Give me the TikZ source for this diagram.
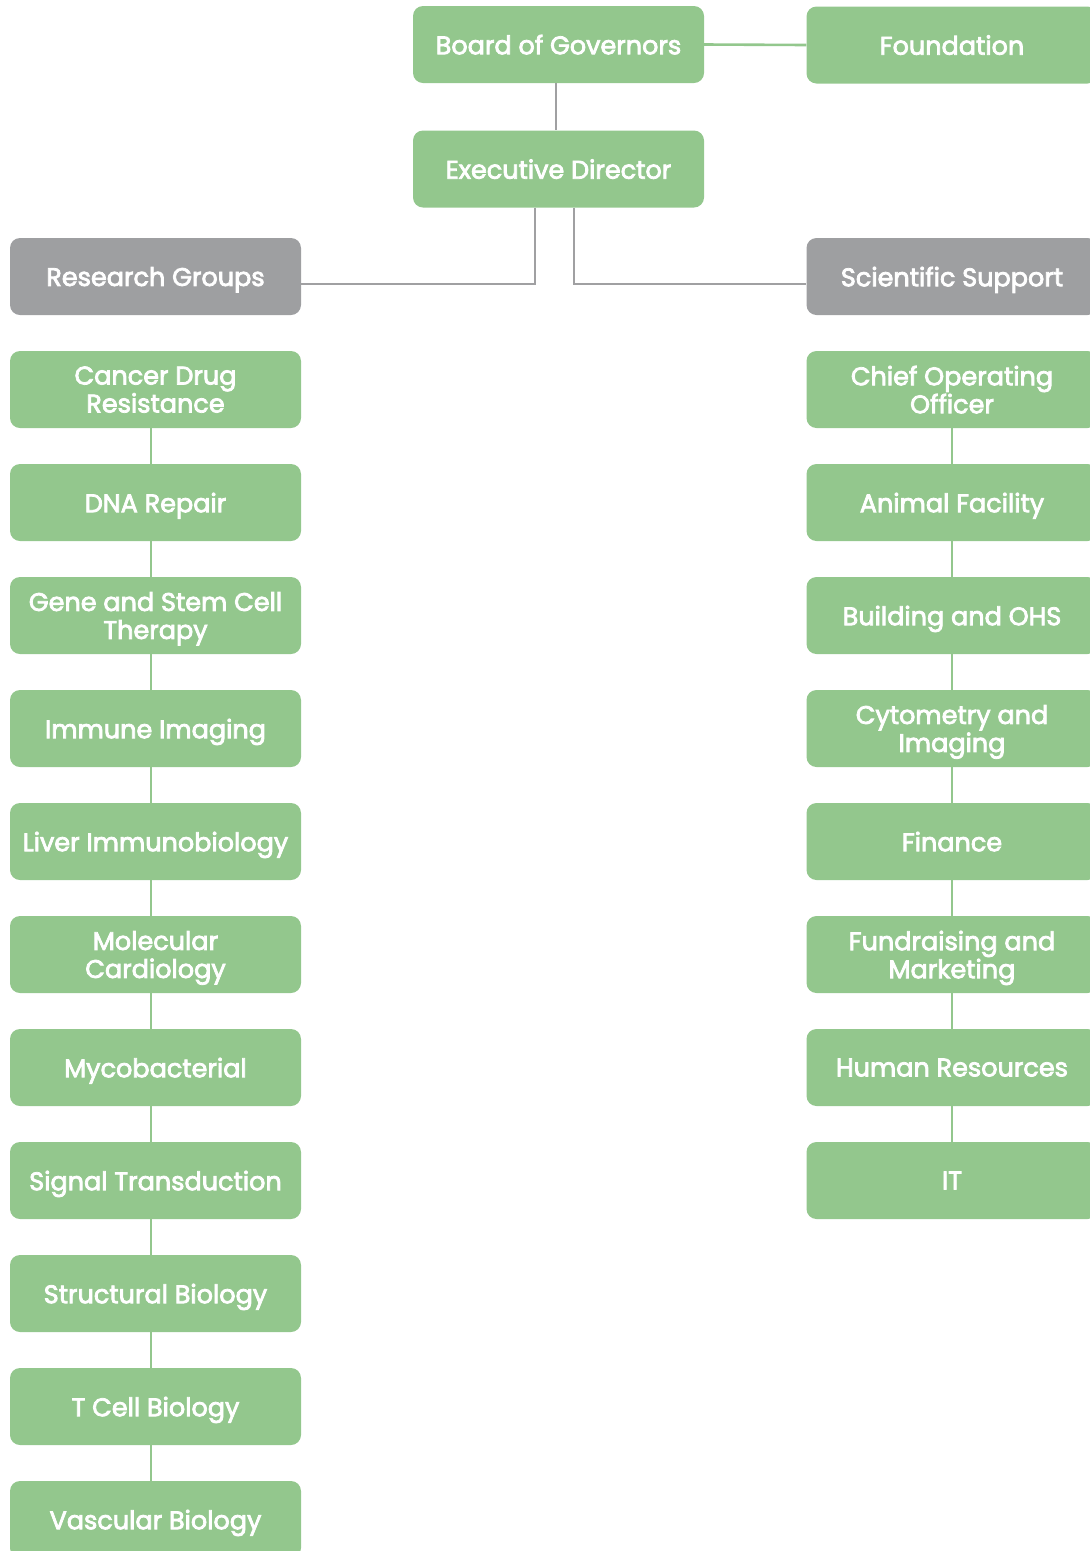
\documentclass[tikz,border=0pt]{standalone}
\usepackage{fontspec}
\setmainfont{Poppins}[FakeBold=3]
\definecolor{boxgreen}{RGB}{147,199,141}
\definecolor{boxgray}{RGB}{158,159,161}
\definecolor{linegray}{RGB}{160,160,162}
\begin{document}
\begin{tikzpicture}[x=1pt,y=-1pt,
  box/.style={rounded corners=10pt,minimum width=291pt,minimum height=77pt,inner sep=0pt,
    text=white,align=center,text depth=0pt,font=\fontsize{25.5}{28}\selectfont},
  gbox/.style={box,fill=boxgreen},
  hbox/.style={box,fill=boxgray},
  gline/.style={draw=boxgreen,line width=2.6pt},
  hline/.style={draw=linegray,line width=2.6pt}]
\useasboundingbox (0,0) rectangle (1090,1551);
% top
\node[gbox] (bog) at (558.5,44.5) {Board of Governors};
\node[gbox] (fnd) at (952,45) {Foundation};
\node[gbox] (ed) at (558.5,169) {Executive Director};
\node[hbox] (rg) at (155.5,276.5) {Research Groups};
\node[hbox] (ss) at (952,276.5) {Scientific Support};
\draw[gline] (bog.east) -- (fnd.west);
\draw[hline] ([xshift=-2.5pt]bog.south) -- ([xshift=-2.5pt]ed.north);
\draw[hline] ([xshift=-23.5pt]ed.south) |- ([yshift=-7.5pt]rg.east);
\draw[hline] ([xshift=15.5pt]ed.south) |- ([yshift=-7.5pt]ss.west);
% left column
\foreach \n/\t [count=\i from 0] in {l1/{Cancer Drug\\Resistance},l2/{DNA Repair},
  l3/{Gene and Stem Cell\\Therapy},l4/{Immune Imaging},l5/{Liver Immunobiology},
  l6/{Molecular\\Cardiology},l7/{Mycobacterial},l8/{Signal Transduction},
  l9/{Structural Biology},l10/{T Cell Biology},l11/{Vascular Biology}}
  \node[gbox] (\n) at (155.5,389.5+113*\i) {\t};
\foreach \a/\b in {l1/l2,l2/l3,l3/l4,l4/l5,l5/l6,l6/l7,l7/l8,l8/l9,l9/l10,l10/l11}
  \draw[gline] ([xshift=-4.5pt]\a.south) -- ([xshift=-4.5pt]\b.north);
\draw[gline] ([xshift=-4.5pt]l1.north) -- ++(0,4);
% right column
\foreach \n/\t [count=\i from 0] in {r1/{Chief Operating\\Officer},r2/{Animal Facility},
  r3/{Building and OHS},r4/{Cytometry and\\Imaging},r5/{Finance},
  r6/{Fundraising and\\Marketing},r7/{Human Resources},r8/{IT}}
  \node[gbox] (\n) at (952,389.5+113*\i) {\t};
\foreach \a/\b in {r1/r2,r2/r3,r3/r4,r4/r5,r5/r6,r6/r7,r7/r8}
  \draw[gline] (\a.south) -- (\b.north);
\draw[gline] (r1.north) -- ++(0,4);
\end{tikzpicture}
\end{document}
